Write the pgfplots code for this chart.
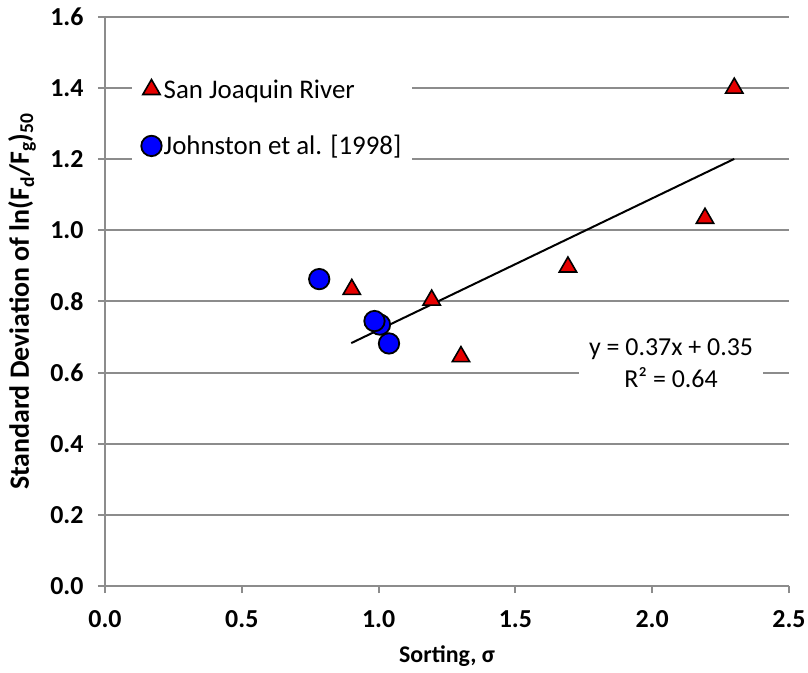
\documentclass[border=0pt]{standalone}
\usepackage{pgfplots}
\pgfplotsset{compat=1.18}
\usepackage{fontspec}
\setmainfont{Carlito}

\definecolor{gridgray}{RGB}{140,140,140}
\definecolor{sjred}{RGB}{230,0,0}
\definecolor{jblue}{RGB}{0,0,255}

\begin{document}
\begin{tikzpicture}
\path[use as bounding box] (-105bp,-87bp) rectangle (703bp,586bp);
\begin{axis}[
  at={(0,0)}, anchor=south west,
  scale only axis, width=684bp, height=569bp,
  xmin=0, xmax=2.5, ymin=0, ymax=1.6,
  axis x line=bottom, axis y line=left,
  axis line style={-, draw=gridgray, line width=2bp},
  xtick={0,0.5,1,1.5,2,2.5},
  ytick={0,0.2,0.4,0.6,0.8,1.0,1.2,1.4,1.6},
  ymajorgrids, grid style={gridgray, line width=2bp},
  tick style={gridgray, line width=2bp}, tick align=outside,
  major tick length=7bp,
  xticklabel style={font=\bfseries\fontsize{26}{30}\selectfont, yshift=-14bp},
  yticklabel style={font=\bfseries\fontsize{26}{30}\selectfont, xshift=-11bp},
  /pgf/number format/.cd, fixed, fixed zerofill, precision=1, assume math mode=true,
  /pgfplots/.cd,
  xlabel={Sorting, σ},
  ylabel={Standard Deviation of ln(F\textsubscript{d}/F\textsubscript{g})\textsubscript{50}},
  xlabel style={at={(axis description cs:0.5,-0.124)}, anchor=center,
                font=\bfseries\fontsize{24}{28}\selectfont},
  ylabel style={at={(axis description cs:-0.1213,0.5)}, anchor=center,
                font=\bfseries\fontsize{28}{32}\selectfont},
  legend style={at={(axis cs:0.099,1.436)}, anchor=north west,
                fill=white, draw=none, row sep=32bp, inner xsep=9bp,
                font=\fontsize{27}{32}\selectfont,
                legend cell align=left},
  legend image code/.code={\draw[mark repeat=2,mark phase=2,#1]
     plot coordinates {(0bp,0bp)(10bp,0bp)(20bp,0bp)};},
]
% San Joaquin River measurements
\addplot[only marks, mark=triangle*, mark size=10bp,
         mark options={fill=sjred, draw=black, line width=1.6bp}]
  coordinates {(0.902,0.834) (1.194,0.804) (1.301,0.645)
               (1.692,0.897) (2.193,1.034) (2.300,1.400)};
\addlegendentry{San Joaquin River}
% Johnston et al. data
\addplot[only marks, mark=*, mark size=10.2bp,
         mark options={fill=jblue, draw=black, line width=1.8bp}]
  coordinates {(0.783,0.863) (1.005,0.735) (0.985,0.745) (1.038,0.682)};
\addlegendentry{Johnston et al. [1998]}
% linear fit to the San Joaquin points
\addplot[black, line width=2bp, no marks, forget plot]
  coordinates {(0.9,0.683) (2.3,1.201)};
\node[fill=white, align=center, inner xsep=10bp, inner ysep=3bp,
      font=\fontsize{26}{32}\selectfont]
  at (axis cs:2.069,0.627) {y = 0.37x + 0.35\\R² = 0.64};
\end{axis}
\end{tikzpicture}
\end{document}
